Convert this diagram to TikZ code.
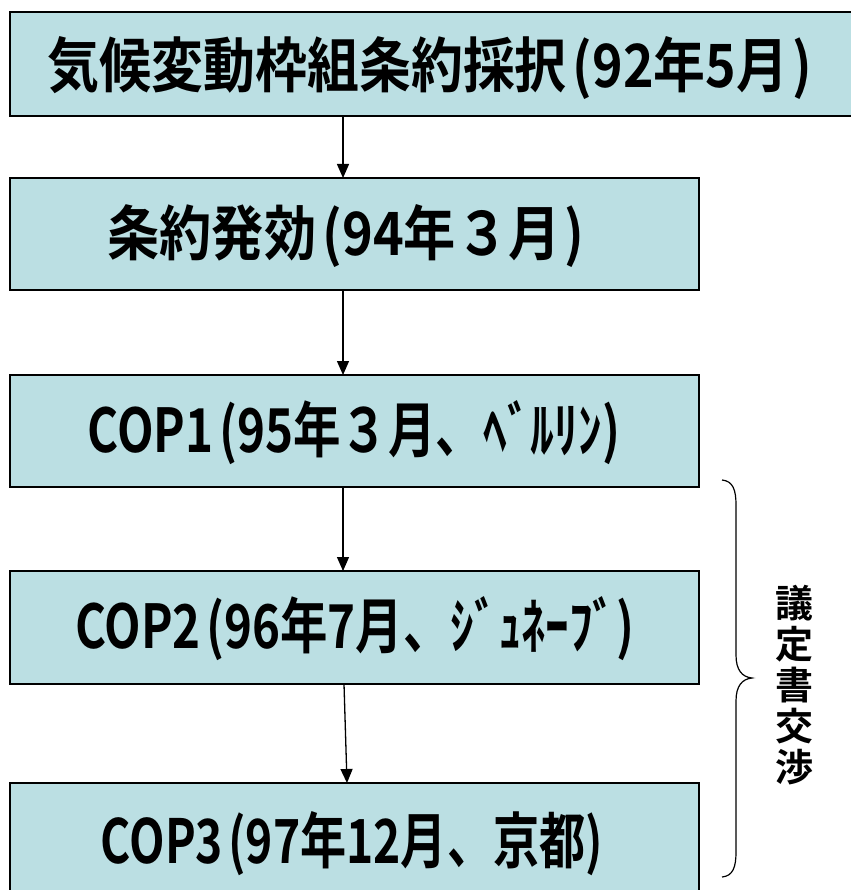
\documentclass[tikz,border=0pt]{standalone}
\usepackage{fontspec}
\usepackage{graphicx}
\newfontfamily\jpb{Noto Sans CJK JP Bold}
\usetikzlibrary{arrows.meta}
\definecolor{boxfill}{HTML}{BBDFE3}
\newcommand{\fittext}[3]{\resizebox{#1pt}{#2pt}{\jpb\fontsize{50}{50}\selectfont #3}}
\newcommand{\lp}{\hspace{0.12em}(}
\newcommand{\rp}{\hspace{0.08em})}
\tikzset{
  stagebox/.style={draw=black, line width=2pt, fill=boxfill, rectangle, inner sep=0pt, anchor=center},
  flowarrow/.style={line width=1.3pt, -{Triangle[width=12pt,length=14pt]}}
}
\begin{document}
\begin{tikzpicture}[x=1pt,y=-1pt]
\useasboundingbox (0,0) rectangle (850,890);
\node[stagebox, minimum width=842pt, minimum height=104pt] (b1) at (431,64) {};
\node (t1) at (430,68) {\fittext{764}{51}{気候変動枠組条約採択\lp 92年5月\rp}};
\node[stagebox, minimum width=689pt, minimum height=112pt] (b2) at (354.5,234) {};
\node (t2) at (346,236) {\fittext{477}{51}{条約発効\lp 94年３月\rp}};
\node[stagebox, minimum width=689pt, minimum height=112pt] (b3) at (354.5,431) {};
\node (t3) at (354,433) {\fittext{532}{52}{COP1\lp 95年３月、ﾍﾞﾙﾘﾝ)}};
\node[stagebox, minimum width=689pt, minimum height=113pt] (b4) at (354.5,627.5) {};
\node (t4) at (355,629) {\fittext{559}{52}{COP2\lp 96年7月、ｼﾞｭﾈｰﾌﾞ)}};
\node[stagebox, minimum width=689pt, minimum height=130pt] (b5) at (354.5,848) {};
\node (t5) at (352,844) {\fittext{502}{52}{COP3\lp 97年12月、京都)}};
\coordinate (a1s) at (343,116); \coordinate (a1e) at (343,178);
\coordinate (a2s) at (343,290); \coordinate (a2e) at (343,375);
\coordinate (a3s) at (343,487); \coordinate (a3e) at (343,571);
\coordinate (a4s) at (344,684); \coordinate (a4e) at (347,783);
\draw[flowarrow] (a1s) -- (a1e);
\draw[flowarrow] (a2s) -- (a2e);
\draw[flowarrow] (a3s) -- (a3e);
\draw[flowarrow] (a4s) -- (a4e);
\draw[line width=1.2pt] (722,480) .. controls (733,481) and (736,490) .. (736,505)
  -- (736,655) .. controls (736,670) and (742,677) .. (752,678)
  .. controls (742,679) and (736,686) .. (736,701)
  -- (736,852) .. controls (736,867) and (733,876) .. (722,877);
\node[align=center, inner sep=0pt, font=\jpb\fontsize{38}{41}\selectfont] (lbl) at (794,685) {議\\定\\書\\交\\渉};
\end{tikzpicture}
\end{document}
